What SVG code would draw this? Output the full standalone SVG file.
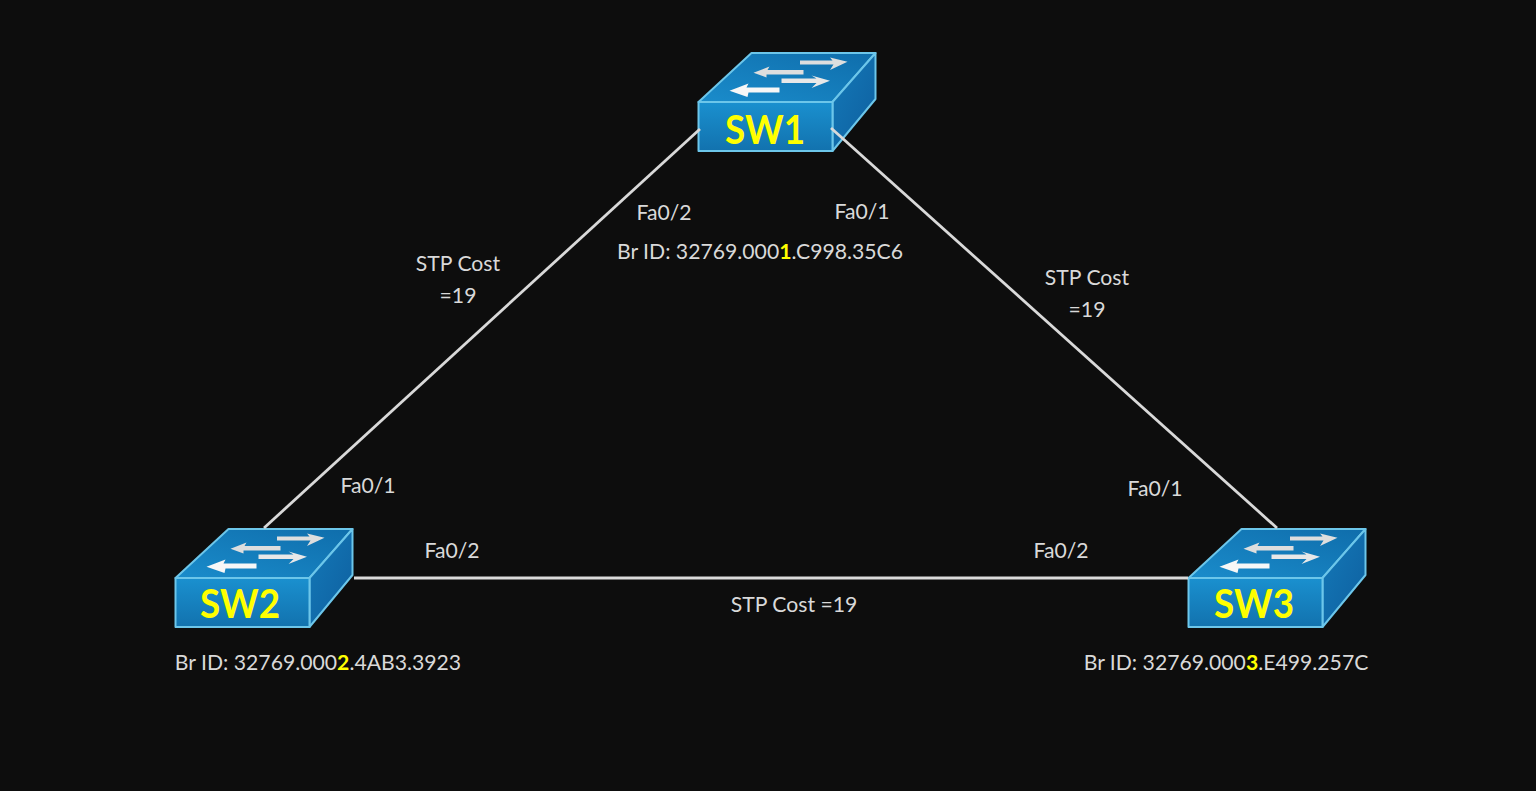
<svg xmlns="http://www.w3.org/2000/svg" width="1536" height="791" viewBox="0 0 1536 791">
<style>
text{font-family:"Lato","Carlito","Open Sans",sans-serif;font-size:21.2px;fill:#d9d9d9;text-anchor:middle}
.b{fill:#ffff00;font-weight:700}
.n{font-size:40px;font-weight:700;fill:#ffff00}
.l{stroke:#d9d9d9;stroke-width:2.8;fill:none}
.e{stroke:#6cc6ea;stroke-width:2;stroke-linejoin:round}
</style>
<defs>
<linearGradient id="f" x1="0" y1="0" x2="0" y2="1"><stop offset="0" stop-color="#1a90cf"/><stop offset="1" stop-color="#1272ae"/></linearGradient>
<linearGradient id="t" x1="0" y1="1" x2="1" y2="0"><stop offset="0" stop-color="#1a8ccb"/><stop offset="1" stop-color="#0f6dab"/></linearGradient>
<linearGradient id="s" x1="0" y1="0" x2="1" y2="1"><stop offset="0" stop-color="#1479b8"/><stop offset="1" stop-color="#0e5f9f"/></linearGradient>
<g id="sw">
<path class="e" fill="url(#t)" d="M0 49L53 0H177L134 49Z"/>
<path class="e" fill="url(#s)" d="M134 49L177 0V46L134 98Z"/>
<path class="e" fill="url(#f)" d="M0 49H134V98H0Z"/>
<path d="M101.500 7.500H134L131.500 4.500L149 8.700L131.500 17L135 11.500H101.500Z" fill="#dedede"/>
<path d="M105 17H69L71 13.500L55 19.700L68 24.500L68 21.500H105Z" fill="#dedede"/>
<path d="M83 25.500H118L113 22.500L131.500 27.700L113 35L118 30H83Z" fill="#e8e8e8"/>
<path d="M81 34.500H48L50 30.500L31 37.700L49 44L50 39.500H81Z" fill="#f7f7f7"/>
</g>
</defs>
<rect width="1536" height="791" fill="#0d0d0d"/>
<g id="SW1"><use href="#sw" x="698.500" y="53"/><text class="n" x="765" y="144" textLength="80" lengthAdjust="spacingAndGlyphs">SW1</text></g>
<g id="SW2"><use href="#sw" x="175.500" y="529"/><text class="n" x="240" y="618" textLength="80" lengthAdjust="spacingAndGlyphs">SW2</text></g>
<g id="SW3"><use href="#sw" x="1188.500" y="529"/><text class="n" x="1254" y="618" textLength="80" lengthAdjust="spacingAndGlyphs">SW3</text></g>
<g id="connectors">
<path class="l" d="M700 129L264 528"/>
<path class="l" d="M831 128L1277 528"/>
<path class="l" d="M354 578H1188"/>
</g>
<g id="labels">
<text x="664" y="220">Fa0/2</text>
<text x="862" y="219">Fa0/1</text>
<text x="760" y="259">Br ID: 32769.000<tspan class="b">1</tspan>.C998.35C6</text>
<text x="458" y="271">STP Cost</text>
<text x="458" y="303">=19</text>
<text x="1087" y="285">STP Cost</text>
<text x="1087" y="317">=19</text>
<text x="368" y="493">Fa0/1</text>
<text x="1155" y="496">Fa0/1</text>
<text x="452" y="558">Fa0/2</text>
<text x="1061" y="558">Fa0/2</text>
<text x="794" y="612">STP Cost =19</text>
<text x="318" y="670">Br ID: 32769.000<tspan class="b">2</tspan>.4AB3.3923</text>
<text x="1226" y="670">Br ID: 32769.000<tspan class="b">3</tspan>.E499.257C</text>
</g>
</svg>
